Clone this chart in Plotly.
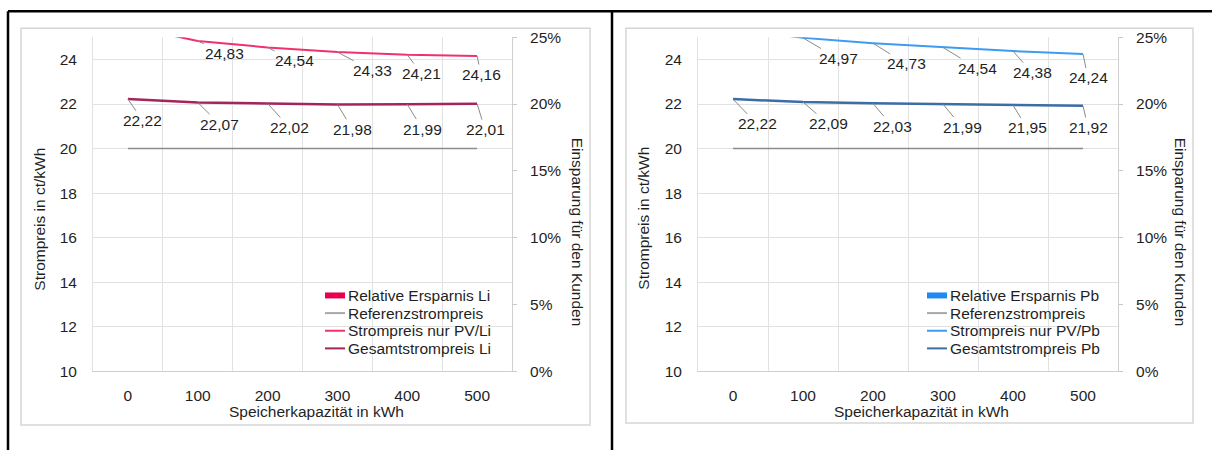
import plotly.graph_objects as go

# target picture size; the page shows the figure 8px lower and squeezes
# the height slightly, so rows are mapped back through SY and TOP_OFFSET
W, H = 1212, 450
TOP_OFFSET = 8
SY = 450 / 466
FW = W
FH = round(H / SY) - TOP_OFFSET          # 458

# ---- data -------------------------------------------------------------
capacity = ["0", "100", "200", "300", "400", "500"]   # Speicherkapazität in kWh

ref_price = [20, 20, 20, 20, 20, 20]                  # Referenzstrompreis ct/kWh

pv_li = [25.5, 24.83, 24.54, 24.33, 24.21, 24.16]     # Strompreis nur PV/Li
total_li = [22.22, 22.07, 22.02, 21.98, 21.99, 22.01] # Gesamtstrompreis Li
saving_li = [-0.111, -0.104, -0.101, -0.099, -0.100, -0.101]  # Relative Ersparnis Li

pv_pb = [25.4, 24.97, 24.73, 24.54, 24.38, 24.24]     # Strompreis nur PV/Pb
total_pb = [22.22, 22.09, 22.03, 21.99, 21.95, 21.92] # Gesamtstrompreis Pb
saving_pb = [-0.111, -0.105, -0.102, -0.100, -0.098, -0.096]  # Relative Ersparnis Pb

# ---- styling ------------------------------------------------------------
FONT = "Liberation Sans, Arial, sans-serif"
FS = 15.5
TXT = "#1f1f1f"
GRID = "#e2e2e2"
AXLINE = "#cfcfcf"
REF_COLOR = "#8c8c8c"

panels = [
    dict(tag="Li", pv=pv_li, total=total_li, saving=saving_li,
         bar_color="#e8004f", pv_color="#f0326c", total_color="#a3265a",
         xa="x", ya="y", ya2="y2",
         plot=(93, 512), frame=(21, 27, 590, 425),
         pv_off=[None, (27, 12), (27, 13), (35, 18), (14, 18), (4, 18)],
         tot_off=[(15, 21), (22, 21), (22, 23), (15, 24), (15, 24), (8, 25)],
         legend_x=325, ytitle_x=40, y2title_x=577, xtitle_x=317),
    dict(tag="Pb", pv=pv_pb, total=total_pb, saving=saving_pb,
         bar_color="#1f8af0", pv_color="#3d9cf2", total_color="#3c6ea6",
         xa="x2", ya="y3", ya2="y4",
         plot=(698, 1118), frame=(626, 27, 1193, 423),
         pv_off=[None, (35, 20), (33, 20), (34, 20), (19, 21), (5, 23)],
         tot_off=[(24, 24), (25, 21), (19, 22), (19, 22), (14, 22), (5, 21)],
         legend_x=927, ytitle_x=644, y2title_x=1180, xtitle_x=921),
]

PLOT_TOP, PLOT_BOTTOM = 36, 371


def fx(p):
    """picture column -> paper x"""
    return p / FW


def fy(p):
    """picture row -> paper y"""
    return 1 - (p / SY - TOP_OFFSET) / FH


def de(v):
    return f"{v:.2f}".replace(".", ",")


fig = go.Figure()
annotations = []
shapes = []
font = dict(family=FONT, size=FS, color=TXT)

for p in panels:
    tag = p["tag"]
    # relative savings as columns on the percentage axis
    fig.add_trace(go.Bar(x=capacity, y=p["saving"], name=f"Relative Ersparnis {tag}",
                         marker_color=p["bar_color"], xaxis=p["xa"], yaxis=p["ya2"],
                         showlegend=False))
    fig.add_trace(go.Scatter(x=capacity, y=ref_price, name="Referenzstrompreis",
                             mode="lines", line=dict(color=REF_COLOR, width=1.5),
                             xaxis=p["xa"], yaxis=p["ya"], showlegend=False))
    fig.add_trace(go.Scatter(x=capacity, y=p["pv"], name=f"Strompreis nur PV/{tag}",
                             mode="lines", line=dict(color=p["pv_color"], width=2),
                             xaxis=p["xa"], yaxis=p["ya"], showlegend=False))
    fig.add_trace(go.Scatter(x=capacity, y=p["total"], name=f"Gesamtstrompreis {tag}",
                             mode="lines", line=dict(color=p["total_color"], width=2.5),
                             xaxis=p["xa"], yaxis=p["ya"], showlegend=False))

    # data labels with leader lines (x given as category index)
    for series, offsets in ((p["pv"], p["pv_off"]), (p["total"], p["tot_off"])):
        for idx, (val, off) in enumerate(zip(series, offsets)):
            if off is None:
                continue
            annotations.append(dict(
                x=idx, y=val, xref=p["xa"], yref=p["ya"], text=de(val),
                showarrow=True, arrowhead=0, arrowwidth=1, arrowcolor="#8a8a8a",
                ax=off[0], ay=off[1] / SY, standoff=0, font=font))

    # chart frame
    fx0, fy0, fx1, fy1 = p["frame"]
    shapes.append(dict(type="rect", xref="paper", yref="paper",
                       x0=fx(fx0), x1=fx(fx1), y0=fy(fy1), y1=fy(fy0),
                       line=dict(color="#d6d6d6", width=1.5), layer="below"))

    # axis titles
    annotations.append(dict(xref="paper", yref="paper", x=fx(p["ytitle_x"]), y=fy(218),
                            xanchor="center", yanchor="middle",
                            text="Strompreis in ct/kWh", textangle=-90, showarrow=False,
                            font=font))
    annotations.append(dict(xref="paper", yref="paper", x=fx(p["y2title_x"]), y=fy(231),
                            xanchor="center", yanchor="middle",
                            text="Einsparung für den Kunden", textangle=90, showarrow=False,
                            font=font))
    annotations.append(dict(xref="paper", yref="paper", x=fx(p["xtitle_x"]), y=fy(411),
                            xanchor="center", yanchor="middle",
                            text="Speicherkapazität in kWh", showarrow=False, font=font))

    # legend
    entries = [(f"Relative Ersparnis {tag}", p["bar_color"], "bar"),
               ("Referenzstrompreis", "#a8a8a8", "line"),
               (f"Strompreis nur PV/{tag}", p["pv_color"], "line"),
               (f"Gesamtstrompreis {tag}", p["total_color"], "line")]
    lx = p["legend_x"]
    for i, (name, col, kind) in enumerate(entries):
        yc = 295 + 17.7 * i
        if kind == "bar":
            shapes.append(dict(type="rect", xref="paper", yref="paper",
                               x0=fx(lx), x1=fx(lx + 20), y0=fy(yc + 3), y1=fy(yc - 3),
                               fillcolor=col, line=dict(width=0)))
        else:
            shapes.append(dict(type="line", xref="paper", yref="paper",
                               x0=fx(lx), x1=fx(lx + 20), y0=fy(yc), y1=fy(yc),
                               line=dict(color=col, width=2)))
        annotations.append(dict(xref="paper", yref="paper", x=fx(lx + 21), y=fy(yc),
                                xanchor="left", yanchor="middle", text=name,
                                showarrow=False, font=font))

# outer table rules
for x0, y0, x1, y1 in [(8, 10, 1212, 10), (8, 10, 8, 450), (612, 10, 612, 450)]:
    shapes.append(dict(type="line", xref="paper", yref="paper",
                       x0=fx(x0), x1=fx(x1), y0=fy(y0), y1=fy(y1),
                       line=dict(color="black", width=2.5)))

tickfont = dict(family=FONT, size=FS, color=TXT)


def xaxis(p, anchor):
    return dict(domain=[fx(p["plot"][0]), fx(p["plot"][1])], anchor=anchor,
                type="category", range=[-0.5, 5.5], tickson="boundaries",
                showgrid=True, gridcolor=GRID, gridwidth=1,
                showline=True, linecolor=AXLINE, ticks="", ticklabelstandoff=10,
                tickfont=tickfont, fixedrange=True)


def yaxis(anchor):
    return dict(domain=[fy(PLOT_BOTTOM), fy(PLOT_TOP)], anchor=anchor,
                range=[10, 25], tick0=10, dtick=2, showgrid=True, gridcolor=GRID,
                showline=True, linecolor=GRID, zeroline=False, ticks="",
                ticklabelstandoff=12, tickfont=tickfont)


def yaxis_pct(anchor, over):
    return dict(anchor=anchor, overlaying=over, side="right", range=[0, 0.25],
                dtick=0.05, tickformat=".0%", showgrid=False, zeroline=False,
                showline=True, linecolor=AXLINE, ticks="outside", ticklen=4,
                tickcolor="#c8c8c8", ticklabelstandoff=10, tickfont=tickfont)


fig.update_layout(
    width=FW, height=FH, margin=dict(l=0, r=0, t=0, b=0),
    paper_bgcolor="white", plot_bgcolor="white",
    font=dict(family=FONT, color=TXT),
    showlegend=False, barmode="group",
    xaxis=xaxis(panels[0], "y"),
    yaxis=yaxis("x"),
    yaxis2=yaxis_pct("x", "y"),
    xaxis2=xaxis(panels[1], "y3"),
    yaxis3=yaxis("x2"),
    yaxis4=yaxis_pct("x2", "y3"),
    annotations=annotations,
    shapes=shapes,
)

fig.write_html("out.html")
